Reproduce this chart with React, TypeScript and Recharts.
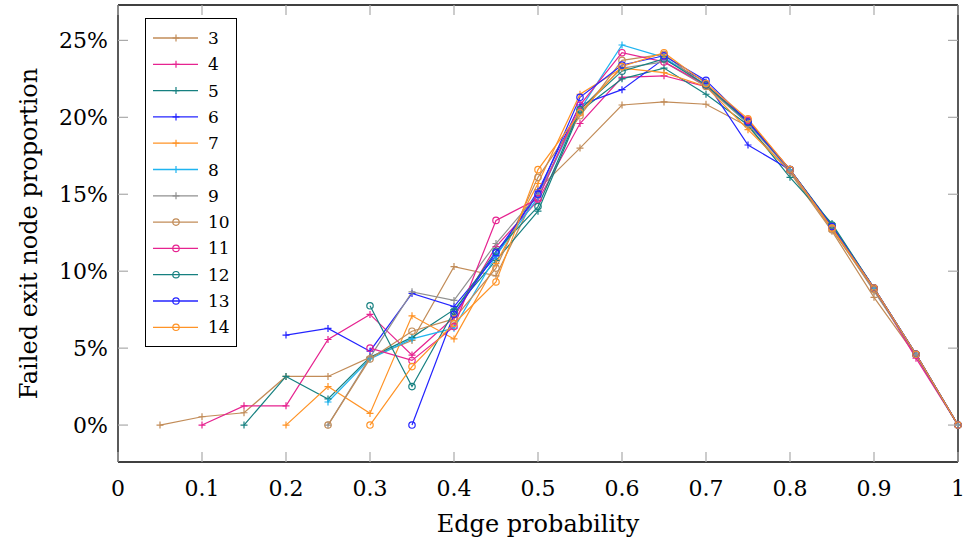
import { LineChart, Line, XAxis, YAxis, Legend } from "recharts";

const edgeProb = [0.05, 0.1, 0.15, 0.2, 0.25, 0.3, 0.35, 0.4, 0.45, 0.5, 0.55, 0.6, 0.65, 0.7, 0.75, 0.8, 0.85, 0.9, 0.95, 1];

// failed exit node proportion (%) per group size, null = not measured
const s3 = [0, 0.54, 0.8, 3.16, 3.16, 4.4, 5.5, 10.3, 9.7, 15.3, 18.0, 20.8, 21.0, 20.85, 19.4, 16.4, 12.6, 8.3, 4.5, 0];
const s4 = [null, 0, 1.25, 1.25, 5.56, 7.19, 4.55, 7.0, 11.6, 14.6, 19.6, 22.6, 22.7, 22.0, 19.7, 16.6, 12.9, 8.9, 4.35, 0];
const s5 = [null, null, 0, 3.16, 1.7, 4.4, 5.7, 7.5, 10.7, 13.9, 20.4, 22.5, 23.2, 21.5, 19.5, 16.1, 13.1, 8.9, 4.6, 0];
const s6 = [null, null, null, 5.85, 6.28, 4.8, 8.55, 7.7, 11.0, 15.2, 20.8, 21.8, 23.8, 22.3, 18.2, 16.6, 12.9, 8.9, 4.6, 0];
const s7 = [null, null, null, 0, 2.5, 0.76, 7.1, 5.6, 10.5, 15.7, 21.5, 23.2, 22.9, 22.0, 19.2, 16.5, 12.8, 8.8, 4.6, 0];
const s8 = [null, null, null, null, 1.5, 4.3, 5.6, 6.3, 11.0, 14.8, 20.5, 24.7, 23.9, 22.1, 19.6, 16.6, 12.9, 8.9, 4.6, 0];
const s9 = [null, null, null, null, 0, 4.4, 8.66, 8.1, 11.8, 15.0, 20.5, 23.2, 23.6, 22.0, 19.6, 16.5, 12.8, 8.7, 4.6, 0];
const s10 = [null, null, null, null, 0, 4.3, 6.1, 6.9, 10.2, 16.1, 20.1, 23.7, 24.1, 22.0, 19.8, 16.6, 12.7, 8.8, 4.6, 0];
const s11 = [null, null, null, null, null, 5.0, 4.2, 6.4, 13.3, 14.7, 20.8, 24.2, 23.6, 22.1, 19.8, 16.6, 12.9, 8.9, 4.6, 0];
const s12 = [null, null, null, null, null, 7.75, 2.5, 7.4, 11.3, 14.2, 20.5, 23.0, 23.8, 22.1, 19.7, 16.6, 13.0, 8.9, 4.6, 0];
const s13 = [null, null, null, null, null, null, 0, 7.2, 11.2, 15.0, 21.3, 23.4, 24.0, 22.4, 19.7, 16.6, 12.9, 8.9, 4.6, 0];
const s14 = [null, null, null, null, null, 0, 3.8, 6.6, 9.3, 16.6, 20.3, 23.3, 24.2, 22.2, 19.9, 16.6, 12.8, 8.9, 4.6, 0];

const xTicks = [0, 0.1, 0.2, 0.3, 0.4, 0.5, 0.6, 0.7, 0.8, 0.9, 1];
const yTicks = [0, 5, 10, 15, 20, 25];

const series = [
  { key: "3", values: s3, color: "#c28c58", mark: "plus" },
  { key: "4", values: s4, color: "#e62390", mark: "plus" },
  { key: "5", values: s5, color: "#168080", mark: "plus" },
  { key: "6", values: s6, color: "#2424ff", mark: "plus" },
  { key: "7", values: s7, color: "#ff9326", mark: "plus" },
  { key: "8", values: s8, color: "#1fb4f0", mark: "plus" },
  { key: "9", values: s9, color: "#909090", mark: "plus" },
  { key: "10", values: s10, color: "#c28c58", mark: "circle" },
  { key: "11", values: s11, color: "#e62390", mark: "circle" },
  { key: "12", values: s12, color: "#168080", mark: "circle" },
  { key: "13", values: s13, color: "#2424ff", mark: "circle" },
  { key: "14", values: s14, color: "#ff9326", mark: "circle" },
];

const data = edgeProb.map((p, i) => {
  const row: Record<string, number | null> = { p };
  series.forEach((s) => {
    row["s" + s.key] = s.values[i];
  });
  return row;
});

const FONT = "'DejaVu Serif', serif";

function Marker({ x, y, color, mark }: { x: number; y: number; color: string; mark: string }) {
  if (mark === "circle") {
    return <circle cx={x} cy={y} r={3.2} fill="none" stroke={color} strokeWidth={1.2} />;
  }
  return (
    <path
      d={`M${x - 3.5},${y}H${x + 3.5}M${x},${y - 3.5}V${y + 3.5}`}
      stroke={color}
      strokeWidth={1.2}
    />
  );
}

function XTick(props: any) {
  const { x, y, payload } = props;
  return (
    <g>
      <line x1={x} y1={y} x2={x} y2={y - 10} stroke="#aaa" strokeWidth={1.2} />
      <text x={x} y={y + 34} textAnchor="middle" fontFamily={FONT} fontSize={22} fill="#000">
        {payload.value}
      </text>
    </g>
  );
}

function XTickTop(props: any) {
  const { x, y } = props;
  return <line x1={x} y1={y} x2={x} y2={y + 10} stroke="#aaa" strokeWidth={1.2} />;
}

function YTick(props: any) {
  const { x, y, payload } = props;
  return (
    <g>
      <line x1={x} y1={y} x2={x + 10} y2={y} stroke="#aaa" strokeWidth={1.2} />
      <text x={x - 10} y={y + 8} textAnchor="end" fontFamily={FONT} fontSize={22} fill="#000">
        {payload.value}%
      </text>
    </g>
  );
}

function YTickRight(props: any) {
  const { x, y } = props;
  return <line x1={x} y1={y} x2={x - 10} y2={y} stroke="#aaa" strokeWidth={1.2} />;
}

function LegendBox() {
  const rowH = 26.3;
  return (
    <svg width={93} height={330} style={{ display: "block" }}>
      <rect x={0.5} y={0.5} width={91} height={328} fill="#fff" stroke="#000" strokeWidth={1} />
      {series.map((s, i) => {
        const cy = 20 + i * rowH;
        return (
          <g key={s.key}>
            <line x1={8} y1={cy} x2={53} y2={cy} stroke={s.color} strokeWidth={1.3} />
            <Marker x={31} y={cy} color={s.color} mark={s.mark} />
            <text x={63} y={cy + 6} fontFamily={FONT} fontSize={17} fill="#000">
              {s.key}
            </text>
          </g>
        );
      })}
    </svg>
  );
}

export default function App() {
  return (
    <div style={{ position: "fixed", left: 0, top: 0, background: "#fff" }}>
      <LineChart width={969} height={541} data={data} margin={{ top: 4, right: 10, bottom: 0, left: 0 }}>
        <XAxis
          dataKey="p"
          type="number"
          domain={[0, 1]}
          ticks={xTicks}
          height={79}
          tickSize={0}
          tickMargin={0}
          tickLine={false}
          axisLine={{ stroke: "#000", strokeWidth: 1.3 }}
          tick={<XTick />}
          interval={0}
          label={{ value: "Edge probability", position: "insideBottom", offset: 9, fontFamily: FONT, fontSize: 24, fill: "#000" }}
        />
        <XAxis
          xAxisId="top"
          dataKey="p"
          type="number"
          orientation="top"
          domain={[0, 1]}
          ticks={xTicks}
          height={1}
          tickSize={0}
          tickMargin={0}
          tickLine={false}
          axisLine={{ stroke: "#000", strokeWidth: 1.3 }}
          tick={<XTickTop />}
          interval={0}
        />
        <YAxis
          type="number"
          domain={[-2.4, 27.3]}
          allowDataOverflow
          ticks={yTicks}
          width={118}
          tickSize={0}
          tickMargin={0}
          tickLine={false}
          axisLine={{ stroke: "#000", strokeWidth: 1.3 }}
          tick={<YTick />}
          interval={0}
          label={{ value: "Failed exit node proportion", angle: -90, position: "insideLeft", offset: 28, fontFamily: FONT, fontSize: 24, fill: "#000", style: { textAnchor: "middle" } }}
        />
        <YAxis
          yAxisId="right"
          orientation="right"
          type="number"
          domain={[-2.4, 27.3]}
          allowDataOverflow
          ticks={yTicks}
          width={1}
          tickSize={0}
          tickMargin={0}
          tickLine={false}
          axisLine={{ stroke: "#000", strokeWidth: 1.3 }}
          tick={<YTickRight />}
          interval={0}
        />
        {series.map((s) => (
          <Line
            key={s.key}
            dataKey={"s" + s.key}
            name={s.key}
            stroke={s.color}
            strokeWidth={1.2}
            isAnimationActive={false}
            activeDot={false}
            dot={(props: any) => {
              const { cx, cy, index, value } = props;
              if (value == null || cx == null || cy == null) return <g key={s.key + "-" + index} />;
              return (
                <g key={s.key + "-" + index}>
                  <Marker x={cx} y={cy} color={s.color} mark={s.mark} />
                </g>
              );
            }}
          />
        ))}
        <Legend
          layout="vertical"
          align="center"
          verticalAlign="middle"
          content={() => <LegendBox />}
          wrapperStyle={{ position: "absolute", left: 145, top: 18, width: 93, height: 330 }}
        />
      </LineChart>
    </div>
  );
}
